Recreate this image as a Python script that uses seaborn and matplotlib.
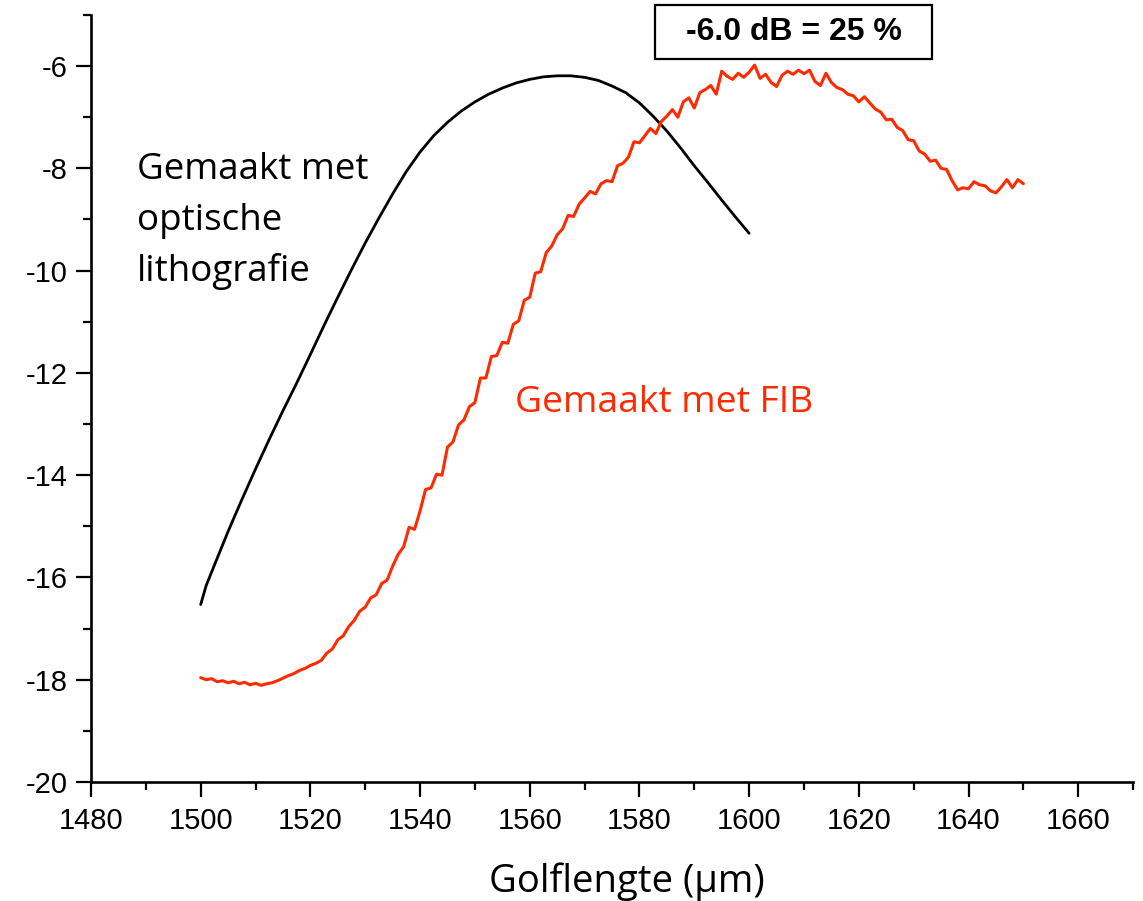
import matplotlib
matplotlib.use("Agg")
import matplotlib.pyplot as plt
from matplotlib.patches import Rectangle
from matplotlib.ticker import MultipleLocator
import pandas as pd
import seaborn as sns

# Transmission spectra (dB) versus wavelength
litho_wavelength = [1500.0, 1501.0, 1502.5, 1505.0, 1507.5, 1510.0, 1512.5, 1515.0, 1517.5,
                    1520.0, 1522.5, 1525.0, 1527.5, 1530.0, 1532.5, 1535.0, 1537.5,
                    1540.0, 1542.5, 1545.0, 1547.5, 1550.0, 1552.5, 1555.0, 1557.5,
                    1560.0, 1562.5, 1565.0, 1567.5, 1570.0, 1572.5, 1575.0, 1577.5,
                    1580.0, 1582.5, 1585.0, 1587.5, 1590.0, 1592.5, 1595.0, 1597.5,
                    1600.0]
litho_db = [-16.53, -16.16, -15.76, -15.10, -14.48, -13.88, -13.30, -12.74, -12.20,
            -11.64, -11.07, -10.52, -9.98, -9.46, -8.97, -8.50, -8.06,
            -7.68, -7.36, -7.10, -6.88, -6.70, -6.55, -6.43, -6.33,
            -6.26, -6.21, -6.19, -6.19, -6.22, -6.28, -6.39, -6.52,
            -6.72, -6.98, -7.27, -7.60, -7.95, -8.28, -8.62, -8.95,
            -9.27]

fib_wavelength = list(range(1500, 1651))
fib_db = [-17.96, -18.00, -17.98, -18.04, -18.02, -18.06, -18.03, -18.08, -18.05, -18.10,
          -18.07, -18.11, -18.08, -18.06, -18.02, -17.97, -17.92, -17.88, -17.82, -17.78,
          -17.72, -17.68, -17.62, -17.48, -17.40, -17.22, -17.14, -16.96, -16.84, -16.66,
          -16.58, -16.40, -16.34, -16.12, -16.05, -15.78, -15.55, -15.40, -15.02, -15.06,
          -14.70, -14.28, -14.25, -13.98, -14.00, -13.45, -13.35, -13.02, -12.92, -12.66,
          -12.58, -12.10, -12.10, -11.68, -11.66, -11.40, -11.42, -11.05, -10.98, -10.58,
          -10.52, -10.05, -10.02, -9.65, -9.52, -9.30, -9.18, -8.92, -8.94, -8.70,
          -8.58, -8.45, -8.50, -8.30, -8.24, -8.26, -7.95, -7.90, -7.78, -7.48,
          -7.50, -7.36, -7.22, -7.32, -7.08, -6.98, -6.85, -7.00, -6.70, -6.62,
          -6.82, -6.52, -6.46, -6.38, -6.55, -6.10, -6.20, -6.26, -6.14, -6.22,
          -6.12, -5.98, -6.24, -6.16, -6.32, -6.40, -6.18, -6.10, -6.16, -6.08,
          -6.15, -6.08, -6.30, -6.38, -6.14, -6.32, -6.42, -6.46, -6.55, -6.58,
          -6.70, -6.60, -6.72, -6.84, -6.90, -7.05, -7.04, -7.20, -7.26, -7.44,
          -7.46, -7.66, -7.72, -7.86, -7.84, -8.00, -8.02, -8.24, -8.42, -8.38,
          -8.40, -8.26, -8.32, -8.34, -8.44, -8.48, -8.36, -8.22, -8.38, -8.22,
          -8.30]

x_ticks = [1480, 1500, 1520, 1540, 1560, 1580, 1600, 1620, 1640, 1660]
y_ticks = [-20, -18, -16, -14, -12, -10, -8, -6]

label_litho = ["Gemaakt met", "optische", "lithografie"]
label_fib = "Gemaakt met FIB"
peak_note = "-6.0 dB = 25 %"
x_title = "Golflengte (µm)"

RED = "#ff2a00"
TEXT_FONT = ["Open Sans", "DejaVu Sans"]

sns.set_theme(style="ticks")
plt.rcParams["font.family"] = ["Liberation Sans", "DejaVu Sans"]
plt.rcParams["axes.unicode_minus"] = False

fig = plt.figure(figsize=(11.43, 9.01), dpi=100)
ax = fig.add_axes([0.0796, 0.1321, 0.9117, 0.8513])

litho = pd.DataFrame({"wl": litho_wavelength, "db": litho_db})
fib = pd.DataFrame({"wl": fib_wavelength, "db": fib_db})
sns.lineplot(data=litho, x="wl", y="db", ax=ax, color="black", linewidth=2.0)
sns.lineplot(data=fib, x="wl", y="db", ax=ax, color=RED, linewidth=2.2)

ax.set_xlim(1480, 1670)
ax.set_ylim(-20, -5)
ax.set_xticks(x_ticks)
ax.set_yticks(y_ticks)
ax.xaxis.set_minor_locator(MultipleLocator(10))
ax.yaxis.set_minor_locator(MultipleLocator(1))
ax.tick_params(axis="both", which="major", length=11, width=1.6, labelsize=21,
               color="black", labelcolor="black", direction="out")
ax.tick_params(axis="both", which="minor", length=6, width=1.6, color="black",
               direction="out")
ax.tick_params(axis="x", which="major", pad=7)
ax.tick_params(axis="y", which="major", pad=6)

sns.despine(ax=ax)
for side in ("left", "bottom"):
    ax.spines[side].set_linewidth(1.9)
    ax.spines[side].set_color("black")

ax.set_ylabel("")
ax.set_xlabel(x_title, fontsize=27.5, family=TEXT_FONT, color="black")
ax.xaxis.set_label_coords(0.514, -0.1434)
ax.xaxis.label.set_verticalalignment("baseline")

# Curve labels
for i, line in enumerate(label_litho):
    ax.text(1488.4, -8.21 - i * 1.0, line, fontsize=26.5, family=TEXT_FONT,
            color="black", va="baseline", ha="left")
ax.text(1557.3, -12.77, label_fib, fontsize=26.8, family=TEXT_FONT, color=RED,
        va="baseline", ha="left")

# Peak annotation in a framed box
ax.add_patch(Rectangle((1582.9, -5.862), 50.4, 1.057, facecolor="white",
                       edgecolor="black", linewidth=1.6, clip_on=False, zorder=4))
ax.text(1608.1, -5.33, peak_note, fontsize=23, fontweight="bold", color="black",
        ha="center", va="center", clip_on=False, zorder=5)

fig.savefig("out.png", dpi=100, facecolor="white")
